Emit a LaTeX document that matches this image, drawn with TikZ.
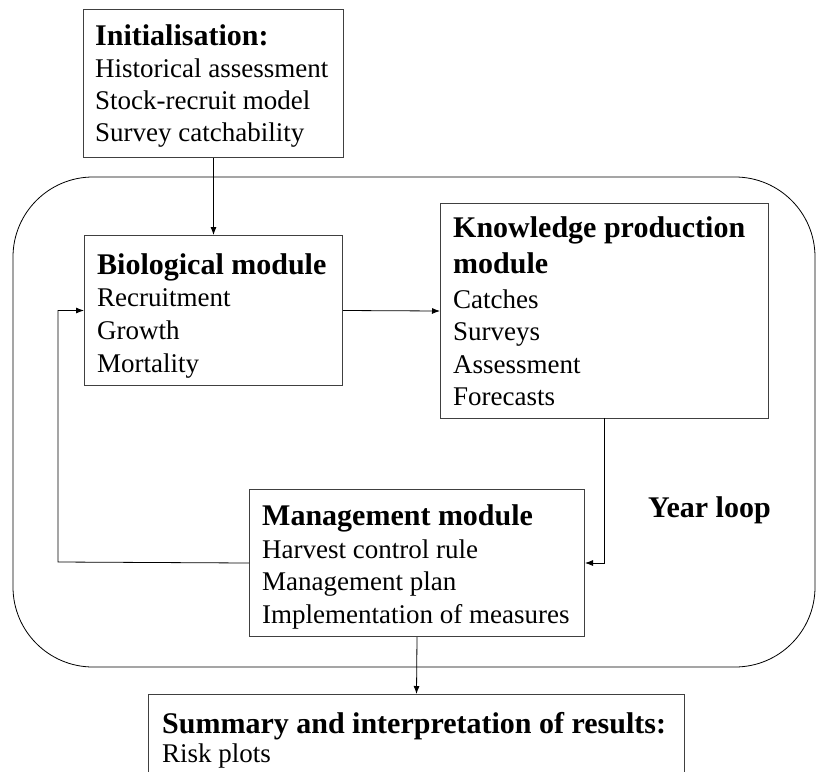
\documentclass[tikz,border=0pt]{standalone}
\usepackage{fontspec}
\setmainfont{Liberation Serif}
\usetikzlibrary{arrows.meta}
\newcommand\ttlfont{\fontsize{30}{36}\selectfont\bfseries}
\newcommand\rgfont{\fontsize{27}{32}\selectfont}
\begin{document}
\begin{tikzpicture}[x=1pt,y=-1pt,
  box/.style={draw=black!75,line width=1pt,rectangle,inner sep=0pt,anchor=north west},
  ttl/.style={anchor=base west,inner sep=0pt,font=\ttlfont},
  txt/.style={anchor=base west,inner sep=0pt,font=\rgfont},
  conn/.style={draw=black,line width=0.8pt,-{Latex[length=8pt,width=6pt]}}]
\useasboundingbox (0,0) rectangle (816,771);
\clip (0,0) rectangle (816,771);
% year loop frame
\draw[black,line width=0.8pt,rounded corners=80pt] (13,177) rectangle (815,667);
% boxes
\node[box,minimum width=260pt,minimum height=148pt] (init) at (83,9) {};
\node[box,minimum width=258pt,minimum height=150pt] (bio) at (84,235) {};
\node[box,minimum width=328pt,minimum height=215pt] (kp) at (440,203) {};
\node[box,minimum width=335pt,minimum height=147pt] (mgmt) at (249,489) {};
\node[box,minimum width=536pt,minimum height=120pt] (sum) at (148,694) {};
% texts
\node[ttl] (t1) at (95,45) {Initialisation:};
\node[txt] (t2) at (95,77) {Historical assessment};
\node[txt] (t3) at (95,109) {Stock-recruit model};
\node[txt] (t4) at (95,141) {Survey catchability};
\node[ttl] (b1) at (97,274) {Biological module};
\node[txt] (b2) at (97,306) {Recruitment};
\node[txt] (b3) at (97,339) {Growth};
\node[txt] (b4) at (97,372) {Mortality};
\node[ttl] (k1) at (453,237) {Knowledge production};
\node[ttl] (k2) at (453,273) {module};
\node[txt] (k3) at (453,308) {Catches};
\node[txt] (k4) at (453,340) {Surveys};
\node[txt] (k5) at (453,373) {Assessment};
\node[txt] (k6) at (453,405) {Forecasts};
\node[ttl] (m1) at (262,525) {Management module};
\node[txt] (m2) at (262,558) {Harvest control rule};
\node[txt] (m3) at (262,590) {Management plan};
\node[txt] (m4) at (262,623) {Implementation of measures};
\node[ttl] (s1) at (162,733) {Summary and interpretation of results:};
\node[txt] (s2) at (162,762) {Risk plots};
\node[ttl] (yl) at (648,517) {Year loop};
% connectors
\coordinate (kpx) at (604,418);
\coordinate (loopx) at (58,562);
\draw[conn] (init.south) -- (bio.north);
\draw[conn] (bio.east) -- (kp.west);
\draw[conn] (kpx) |- (mgmt.east);
\draw[conn] (mgmt.west) -- (loopx) |- (bio.west);
\draw[conn] (mgmt.south) -- (sum.north);
\end{tikzpicture}
\end{document}
